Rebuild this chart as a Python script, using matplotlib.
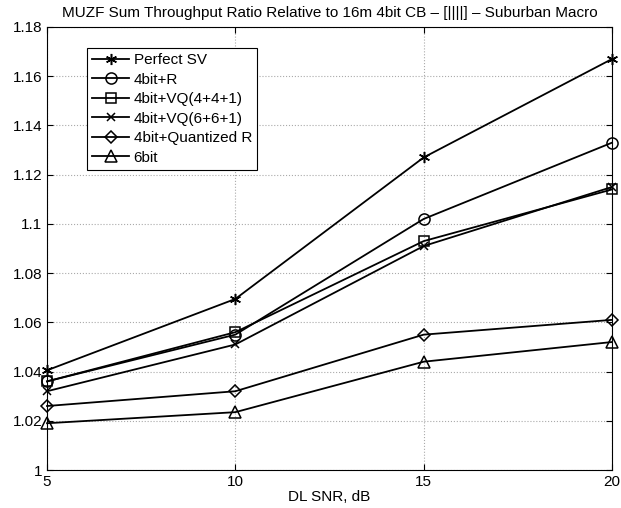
import numpy as np
from matplotlib import pyplot as plt

plt.rcParams['font.family'] = ['Liberation Sans', 'DejaVu Sans']

snr = [5, 10, 15, 20]
perfect_sv = [1.0405, 1.0695, 1.127, 1.167]
bit4_r = [1.036, 1.055, 1.102, 1.133]
bit4_vq441 = [1.036, 1.056, 1.093, 1.114]
bit4_vq661 = [1.032, 1.051, 1.091, 1.115]
bit4_qr = [1.026, 1.032, 1.055, 1.061]
bit6 = [1.019, 1.0235, 1.044, 1.052]

labels = ['Perfect SV', '4bit+R', '4bit+VQ(4+4+1)', '4bit+VQ(6+6+1)',
          '4bit+Quantized R', '6bit']
series = [perfect_sv, bit4_r, bit4_vq441, bit4_vq661, bit4_qr, bit6]
markers = [(6, 2, 0), 'o', 's', 'x', 'D', '^']
msizes = [8, 8, 7, 6, 6.5, 8]

fig = plt.figure(figsize=(6.21, 5.08), dpi=100)
ax = fig.add_axes([47 / 621, 1 - 470 / 508, 565 / 621, 443 / 508])
for s, lab, m, ms in zip(series, labels, markers, msizes):
    ax.plot(snr, s, color='black', marker=m, markersize=ms,
            markerfacecolor='none', markeredgecolor='black', lw=1.3, mew=1.1,
            label=lab, clip_on=False, zorder=3)

ax.set_xlim(5, 20)
ax.set_ylim(1, 1.18)
ax.set_xticks([5, 10, 15, 20])
ax.set_yticks(np.arange(1, 1.181, 0.02))
ax.set_yticklabels(['1', '1.02', '1.04', '1.06', '1.08', '1.1', '1.12',
                    '1.14', '1.16', '1.18'])
ax.grid(True, linestyle=':', color='#aaaaaa', lw=0.8)
ax.tick_params(direction='in', labelsize=11, length=4, top=True, right=True)
ax.set_xlabel('DL SNR, dB', fontsize=11, labelpad=1)
ax.set_title('MUZF Sum Throughput Ratio Relative to 16m 4bit CB \u2013 [||||] \u2013 Suburban Macro',
             fontsize=11, pad=7)
leg = ax.legend(loc='upper left', bbox_to_anchor=(0.071, 0.953), fontsize=11,
                fancybox=False, edgecolor='black', framealpha=1,
                handlelength=2.4, labelspacing=0.36, borderpad=0.35,
                handletextpad=0.3, borderaxespad=0)
leg.get_frame().set_linewidth(0.8)
plt.savefig('out.png')
